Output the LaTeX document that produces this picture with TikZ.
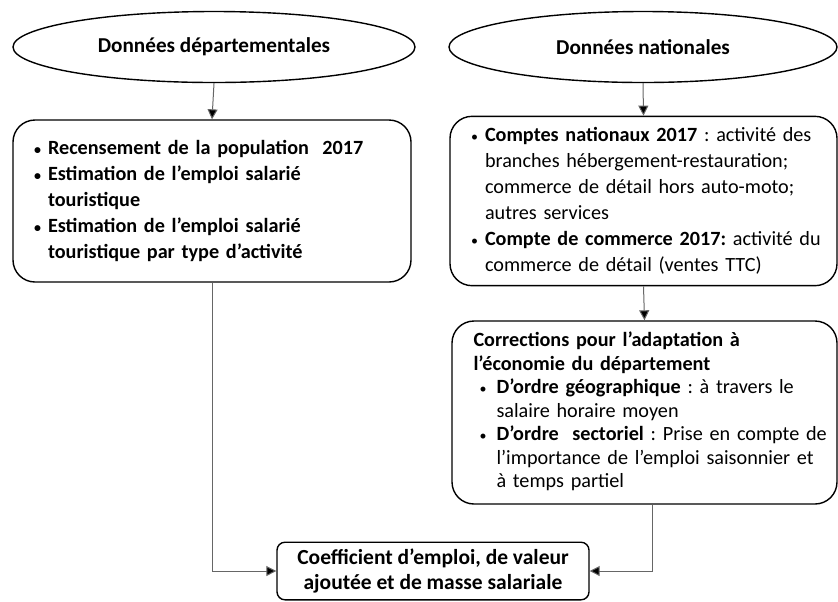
\documentclass[tikz,border=0pt]{standalone}
\usepackage{fontspec}
\setmainfont{Carlito}
\usetikzlibrary{shapes.geometric,arrows.meta}
\frenchspacing

\newcommand{\puce}[1][7pt]{\makebox[#1][l]{\fontsize{7}{7}\selectfont\textbullet}}
\newcommand{\retrait}[1][7pt]{\hspace*{#1}}

\begin{document}
\begin{tikzpicture}[x=0.5pt,y=-0.5pt,
    source/.style={ellipse,draw,line width=0.7pt,minimum height=35.5pt,font=\fontsize{10.6}{13}\selectfont\bfseries},
    bloc/.style={draw,line width=0.7pt,rounded corners=11pt,align=left,inner xsep=10.5pt,font=\fontsize{10.1}{13}\selectfont},
    resultat/.style={draw,line width=0.7pt,rounded corners=4pt,align=center,minimum width=156pt,minimum height=28pt,font=\fontsize{10.75}{12.5}\selectfont\bfseries},
    fleche/.style={draw=black!60,line width=0.5pt,-{Triangle[length=5pt,width=5pt,fill=black]}}]
    \useasboundingbox (0,0) rectangle (838,601);
    % les deux sources
    \node[source,minimum width=201pt] (depart) at (214,47) {Données départementales};
    \node[source,minimum width=194pt] (nation) at (643,47) {Données nationales};
    % sources departementales
    \node[bloc,minimum width=199pt,minimum height=81pt,text width=178pt,font=\fontsize{10.1}{13}\selectfont\bfseries] (recens) at (212,201) {%
        \begin{tabular}{@{}l@{}}
        \puce Recensement de la population~ 2017\\
        \puce Estimation de l’emploi salarié\\
        \retrait touristique\\
        \puce Estimation de l’emploi salarié\\
        \retrait touristique par type d’activité
        \end{tabular}};
    % sources nationales
    \node[bloc,minimum width=193.5pt,minimum height=81pt,text width=172.5pt] (comptes) at (643.5,201) {%
        \begin{tabular}{@{}l@{}}
        \puce\textbf{Comptes nationaux 2017} : activité des\\
        \retrait branches hébergement-restauration;\\
        \retrait commerce de détail hors auto-moto;\\
        \retrait autres services\\
        \puce\textbf{Compte de commerce 2017:} activité du\\
        \retrait commerce de détail (ventes TTC)
        \end{tabular}};
    % corrections
    \node[bloc,minimum width=192.5pt,minimum height=91.5pt,text width=171pt,inner xsep=10.75pt,font=\fontsize{10.1}{11.75}\selectfont] (correc) at (644.5,412.5) {%
        \begin{tabular}{@{}l@{}}
        \textbf{Corrections pour l’adaptation à}\\
        \textbf{l’économie du département}\\
        \retrait[3pt]\puce[8.5pt]\textbf{D’ordre géographique} : à travers le\\
        \retrait[11.5pt]salaire horaire moyen\\
        \retrait[3pt]\puce[8.5pt]\textbf{D’ordre~ sectoriel} : Prise en compte de\\
        \retrait[11.5pt]l’importance de l’emploi saisonnier et\\
        \retrait[11.5pt]à temps partiel
        \end{tabular}};
    % resultat
    \node[resultat] (coef) at (433,571) {Coefficient d’emploi, de valeur\\ ajoutée et de masse salariale};
    % fleches
    \draw[fleche] (depart.south) -- (recens.north);
    \draw[fleche] (nation.south) -- (comptes.north);
    \draw[fleche] (comptes.south) -- (correc.north);
    \draw[fleche] (recens.south) |- (coef.west);
    \draw[fleche] ([xshift=4pt]correc.south) |- (coef.east);
\end{tikzpicture}
\end{document}
